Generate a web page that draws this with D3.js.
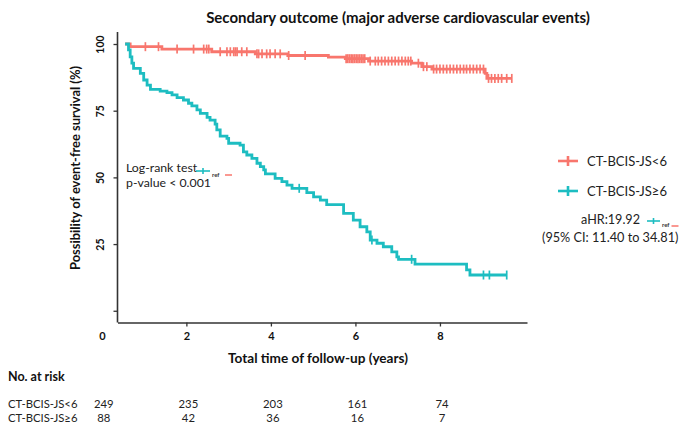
<!DOCTYPE html>
<html>
<head>
<meta charset="utf-8">
<script src="https://cdn.jsdelivr.net/npm/d3@7"></script>
<style>
  html, body { margin: 0; padding: 0; background: #fff; }
  svg { display: block; font-family: Lato, "Open Sans", sans-serif; }
</style>
</head>
<body>
<svg id="chart" width="685" height="427"></svg>
<script>
// ---------- data ----------
const seriesNames = ["CT-BCIS-JS<6", "CT-BCIS-JS\u22656"];
const seriesColors = ["#F8766D", "#1DBDC1"];

// Low-score group (CT-BCIS-JS<6): step times (years) and survival (%)
const lowTimes = [0.55, 0.67, 1.42, 2.60, 3.63, 4.40, 5.36, 5.76, 6.31, 7.33, 7.57, 7.81, 9.07, 9.11];
const lowSurv  = [100, 99.0, 98.1, 97.1, 96.3, 95.7, 95.1, 94.5, 93.6, 92.8, 91.5, 90.6, 89.0, 87.1];
const lowEnd = 9.70;
const lowCensor = [1.03, 1.34, 1.78, 2.17, 2.41, 2.48, 2.53, 2.80, 2.96, 3.04, 3.12, 3.16, 3.20, 3.31, 3.43,
  3.67, 3.71, 3.79, 3.90, 3.98, 4.10, 4.22, 4.42, 4.81,
  5.78, 5.82, 5.86, 5.90, 5.94, 5.98, 6.02, 6.06, 6.10, 6.14, 6.18, 6.22,
  6.35, 6.47, 6.54, 6.62, 6.70, 6.78, 6.86, 6.94, 7.02, 7.10, 7.18, 7.25, 7.31,
  7.49, 7.61, 7.69, 7.85, 7.92, 8.00, 8.08, 8.16, 8.24, 8.32, 8.40, 8.48, 8.56, 8.63, 8.71, 8.79, 8.87, 8.95, 9.03,
  9.15, 9.22, 9.30, 9.38, 9.46, 9.58, 9.70];

// High-score group (CT-BCIS-JS>=6)
const highTimes = [0.55, 0.63, 0.67, 0.71, 0.75, 0.91, 0.99, 1.07, 1.15, 1.38, 1.54, 1.66, 1.78, 1.93, 2.05, 2.13,
  2.25, 2.33, 2.49, 2.56, 2.68, 2.72, 2.80, 2.96, 3.00, 3.27, 3.35, 3.43, 3.55, 3.67, 3.75, 3.83, 3.87,
  4.10, 4.26, 4.38, 4.50, 4.85, 5.01, 5.17, 5.32, 5.72, 5.95, 6.11, 6.27, 6.35, 6.51, 6.66, 6.86, 6.98, 7.02,
  7.41, 8.63, 8.71];
const highSurv = [100, 97.8, 95.2, 92.8, 90.9, 89.0, 86.5, 84.6, 83.0, 82.3, 81.8, 80.9, 79.9, 79.0, 77.8, 76.8,
  75.3, 74.0, 72.5, 71.5, 70.0, 67.8, 65.5, 64.6, 62.8, 62.1, 59.6, 58.4, 57.1, 55.3, 54.0, 52.8, 51.3,
  49.6, 48.4, 47.1, 45.9, 44.3, 42.7, 41.5, 39.8, 36.5, 34.0, 31.5, 29.6, 26.5, 25.3, 24.0, 22.1, 20.2, 19.3,
  17.5, 15.3, 13.4];
const highEnd = 9.58;
const highCensor = [4.67, 6.39, 7.33, 9.03, 9.17, 9.58];

const xTicks = [0, 2, 4, 6, 8];
const yTicks = [0, 25, 50, 75, 100];
const riskTimes = [0, 2, 4, 6, 8];
const riskLow = [249, 235, 203, 161, 74];
const riskHigh = [88, 42, 36, 16, 7];

const titleText = "Secondary outcome (major adverse cardiovascular events)";
const xLabel = "Total time of follow-up (years)";
const yLabel = "Possibility of event-free survival (%)";

// ---------- layout ----------
const svg = d3.select("#chart");
const axisColor = "#333";
const x = d3.scaleLinear().domain([0.37, 10.06]).range([117.5, 527]);
const y = d3.scaleLinear().domain([-4.4, 104.5]).range([322.5, 32]);

// title
svg.append("text").attr("x", 398).attr("y", 22.5).attr("text-anchor", "middle")
  .attr("font-weight", 700).attr("font-size", 15).attr("fill", "#111").text(titleText);

// y axis
const yAxis = svg.append("g").attr("transform", `translate(${x.range()[0]},0)`)
  .call(d3.axisLeft(y).tickValues(yTicks).tickSize(4).tickFormat(d => d === 0 ? "" : d));
yAxis.select(".domain").attr("stroke", axisColor).attr("stroke-width", 1.6);
yAxis.selectAll(".tick line").attr("stroke", axisColor).attr("stroke-width", 1.3);
yAxis.selectAll(".tick text")
  .attr("font-family", "Lato, sans-serif").attr("font-weight", 700).attr("font-size", 10.5).attr("fill", "#111")
  .attr("transform", "rotate(-90)").attr("x", 0).attr("y", -17).attr("dy", "0.35em").attr("text-anchor", "middle");
yAxis.select(".domain").attr("d", `M0,${y.range()[1]}V${y.range()[0]}`);

// x axis
const xAxis = svg.append("g").attr("transform", `translate(0,${y.range()[0]})`)
  .call(d3.axisBottom(x).tickValues(xTicks).tickSize(4).tickSizeOuter(0));
xAxis.select(".domain").attr("stroke", axisColor).attr("stroke-width", 1.6);
xAxis.selectAll(".tick line").attr("stroke", axisColor).attr("stroke-width", 1.3)
  .filter(d => d < x.domain()[0]).remove();
xAxis.selectAll(".tick text").attr("font-family", "Lato, sans-serif").attr("font-weight", 700)
  .attr("font-size", 11).attr("fill", "#111").attr("y", 10);

// axis labels
svg.append("text").attr("x", 318).attr("y", 363).attr("text-anchor", "middle")
  .attr("font-weight", 700).attr("font-size", 13.6).attr("fill", "#111").text(xLabel);
svg.append("text").attr("transform", "translate(80,168) rotate(-90)").attr("text-anchor", "middle")
  .attr("font-weight", 700).attr("font-size", 12.9).attr("fill", "#111").text(yLabel);

// ---------- curves ----------
function stepPoints(times, surv, end) {
  const pts = times.map((t, i) => [t, surv[i]]);
  pts.push([end, surv[surv.length - 1]]);
  return pts;
}
function survAt(times, surv, t) {
  let v = surv[0];
  for (let i = 0; i < times.length; i++) if (times[i] <= t) v = surv[i];
  return v;
}
const line = d3.line().x(d => x(d[0])).y(d => y(d[1])).curve(d3.curveStepAfter);

const groups = [
  { times: lowTimes, surv: lowSurv, end: lowEnd, cens: lowCensor, color: seriesColors[0] },
  { times: highTimes, surv: highSurv, end: highEnd, cens: highCensor, color: seriesColors[1] }
];
groups.forEach(g => {
  svg.append("path").attr("d", line(stepPoints(g.times, g.surv, g.end)))
    .attr("fill", "none").attr("stroke", g.color).attr("stroke-width", 2.8);
  svg.append("g").selectAll("line").data(g.cens).join("line")
    .attr("x1", d => x(d)).attr("x2", d => x(d))
    .attr("y1", d => y(survAt(g.times, g.surv, d)) - 4.5)
    .attr("y2", d => y(survAt(g.times, g.surv, d)) + 4.5)
    .attr("stroke", g.color).attr("stroke-width", 1.7);
});

// ---------- legend ----------
function symbol(cx, cy, color, half, h, w) {
  svg.append("line").attr("x1", cx - half).attr("x2", cx + half).attr("y1", cy).attr("y2", cy)
    .attr("stroke", color).attr("stroke-width", w);
  svg.append("line").attr("x1", cx).attr("x2", cx).attr("y1", cy - h).attr("y2", cy + h)
    .attr("stroke", color).attr("stroke-width", w);
}
const legendY = [161, 191];
seriesNames.forEach((name, i) => {
  symbol(568, legendY[i], seriesColors[i], 10, 5, 2.6);
  svg.append("text").attr("x", 587).attr("y", legendY[i] + 4.5).attr("font-size", 13)
    .attr("fill", "#222").text(name);
});

// aHR annotation
svg.append("text").attr("x", 581).attr("y", 224).attr("font-size", 12.6).attr("fill", "#222").text("aHR:19.92");
symbol(653.5, 221, seriesColors[1], 6.5, 3, 1.6);
svg.append("text").attr("x", 662).attr("y", 226.5).attr("font-size", 6).attr("font-weight", 700)
  .attr("fill", "#333").text("ref");
symbol(675, 226, seriesColors[0], 3.5, 0, 1.5);
svg.append("text").attr("x", 542).attr("y", 242).attr("font-size", 12.7).attr("fill", "#222")
  .text("(95% CI: 11.40 to 34.81)");

// log-rank annotation
svg.append("text").attr("x", 126).attr("y", 172).attr("font-size", 12.3).attr("fill", "#222").text("Log-rank test");
symbol(203, 171, seriesColors[1], 7, 3, 1.6);
svg.append("text").attr("x", 212).attr("y", 176.5).attr("font-size", 6).attr("font-weight", 700)
  .attr("fill", "#333").text("ref");
symbol(228.5, 175, seriesColors[0], 3.5, 0, 1.5);
svg.append("text").attr("x", 126).attr("y", 187).attr("font-size", 12.3).attr("fill", "#222").text("p-value < 0.001");

// ---------- risk table ----------
svg.append("text").attr("x", 8).attr("y", 381).attr("font-weight", 700).attr("font-size", 12.5)
  .attr("fill", "#111").text("No. at risk");
const rows = [riskLow, riskHigh];
const rowY = [408, 422];
rows.forEach((vals, i) => {
  svg.append("text").attr("x", 8).attr("y", rowY[i]).attr("font-size", 11.3).attr("fill", "#222").text(seriesNames[i]);
  svg.append("g").selectAll("text").data(vals).join("text")
    .attr("x", (d, j) => x(riskTimes[j]) + 2).attr("y", rowY[i]).attr("text-anchor", "middle")
    .attr("font-size", 11.3).attr("fill", "#222").text(d => d);
});
</script>
</body>
</html>
